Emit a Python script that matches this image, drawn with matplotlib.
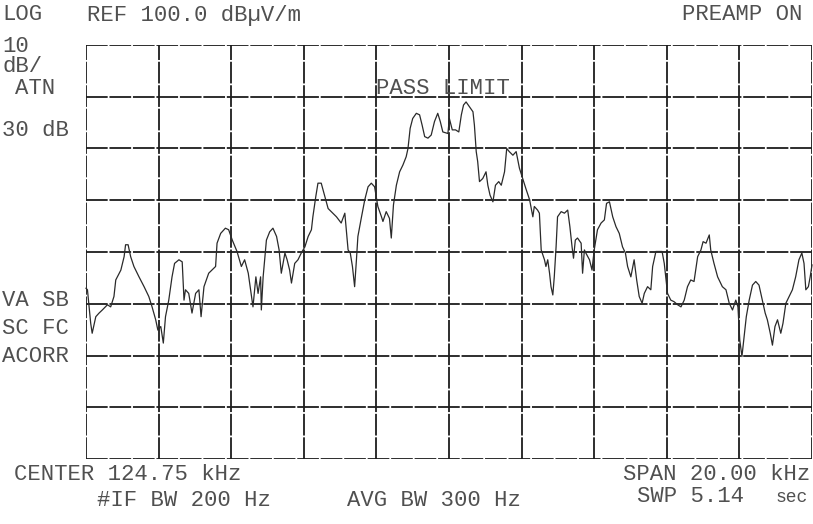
import matplotlib
matplotlib.use("Agg")
import matplotlib.pyplot as plt

# spectrum analyzer screen dump, 10 dB/div, ref 100 dBuV/m, span 20 kHz
ref_level = 100.0
db_per_div = 10
span_khz = 20.0

offset_khz = [
    0.00, 0.04, 0.13, 0.17, 0.27, 0.36, 0.45, 0.59, 0.68, 0.77, 0.82, 0.96, 1.05, 1.09, 1.16,
    1.23, 1.32, 1.46, 1.60, 1.73, 1.82, 1.92, 1.98, 2.06, 2.13, 2.19, 2.28, 2.37, 2.44, 2.56,
    2.65, 2.70, 2.74, 2.83, 2.92, 3.02, 3.11, 3.17, 3.25, 3.38, 3.57, 3.61, 3.71, 3.84, 3.93,
    4.03, 4.16, 4.28, 4.37, 4.47, 4.56, 4.60, 4.68, 4.74, 4.81, 4.83, 4.88, 4.97, 5.06, 5.15,
    5.25, 5.32, 5.38, 5.48, 5.54, 5.61, 5.66, 5.75, 5.84, 5.93, 6.03, 6.12, 6.21, 6.25, 6.33,
    6.39, 6.48, 6.58, 6.67, 6.80, 6.90, 7.03, 7.13, 7.17, 7.22, 7.28, 7.34, 7.40, 7.45, 7.49,
    7.59, 7.68, 7.77, 7.86, 7.95, 8.04, 8.14, 8.18, 8.27, 8.36, 8.41, 8.47, 8.55, 8.64, 8.73,
    8.82, 8.87, 8.93, 9.00, 9.10, 9.19, 9.26, 9.33, 9.42, 9.51, 9.60, 9.69, 9.76, 9.83, 9.97,
    10.01, 10.09, 10.18, 10.27, 10.34, 10.40, 10.47, 10.56, 10.66, 10.70, 10.75, 10.79, 10.84,
    10.93, 11.02, 11.07, 11.13, 11.21, 11.28, 11.37, 11.44, 11.53, 11.59, 11.66, 11.76, 11.85,
    11.94, 12.03, 12.12, 12.22, 12.31, 12.35, 12.44, 12.49, 12.54, 12.63, 12.67, 12.72, 12.77,
    12.81, 12.86, 12.90, 12.95, 12.99, 13.09, 13.18, 13.27, 13.33, 13.39, 13.43, 13.48, 13.54,
    13.64, 13.68, 13.73, 13.77, 13.87, 13.94, 14.00, 14.09, 14.19, 14.28, 14.34, 14.42, 14.51,
    14.60, 14.69, 14.78, 14.86, 14.92, 15.01, 15.10, 15.17, 15.24, 15.32, 15.38, 15.47, 15.56,
    15.61, 15.70, 15.79, 15.87, 15.93, 16.02, 16.11, 16.20, 16.30, 16.39, 16.48, 16.57, 16.66,
    16.75, 16.85, 16.94, 17.00, 17.08, 17.17, 17.21, 17.30, 17.40, 17.53, 17.63, 17.72, 17.81,
    17.90, 17.96, 18.01, 18.07, 18.13, 18.19, 18.27, 18.36, 18.45, 18.54, 18.63, 18.71, 18.77,
    18.85, 18.91, 18.98, 19.05, 19.14, 19.20, 19.28, 19.37, 19.46, 19.55, 19.64, 19.72, 19.78,
    19.83, 19.90, 19.95, 20.00,
]
level_dbuv = [
    53.0, 52.7, 46.2, 44.3, 47.5, 48.2, 48.8, 49.8, 49.4, 51.4, 54.6, 56.5, 59.1, 61.4, 61.4,
    59.1, 57.2, 55.2, 53.3, 51.4, 49.4, 46.9, 44.9, 45.6, 42.4, 47.5, 50.7, 55.2, 57.8, 58.5,
    58.1, 50.7, 52.7, 52.0, 48.2, 52.0, 52.7, 47.5, 53.3, 55.9, 57.2, 61.7, 63.6, 64.6, 64.3,
    62.3, 60.1, 57.2, 58.5, 55.9, 51.4, 49.4, 55.2, 52.0, 55.2, 48.8, 55.2, 62.3, 63.9, 64.6,
    63.0, 60.4, 55.9, 59.8, 58.5, 56.5, 54.0, 57.8, 58.5, 59.8, 61.0, 63.0, 64.3, 66.8, 70.7,
    73.3, 73.3, 70.7, 68.4, 67.5, 66.8, 65.6, 67.5, 64.3, 60.4, 59.8, 57.2, 53.3, 58.5, 63.0,
    66.8, 70.1, 72.6, 73.3, 72.6, 68.8, 66.8, 65.9, 67.8, 66.5, 62.7, 69.1, 72.9, 75.5, 76.8,
    78.4, 80.0, 83.9, 85.8, 86.8, 86.5, 84.5, 82.3, 82.0, 82.6, 85.2, 86.8, 85.2, 83.2, 82.9,
    85.8, 83.6, 83.6, 83.2, 86.5, 88.4, 89.0, 88.1, 87.1, 84.5, 79.4, 77.5, 73.6,
    74.2, 75.5, 72.9, 71.0, 69.7, 72.9, 73.6, 72.9, 75.5, 80.0, 79.4, 78.7, 79.4,
    76.2, 74.2, 72.2, 70.1, 66.8, 68.8, 68.1, 67.5, 60.4, 58.5, 57.2, 58.5, 55.9,
    53.3, 51.7, 55.2, 61.0, 66.8, 67.8, 67.5, 68.1, 64.9, 61.0, 58.8, 62.3, 62.7,
    61.7, 55.9, 60.4, 59.8, 58.5, 56.5, 60.4, 64.3, 65.6, 66.2, 69.4, 69.7, 66.8,
    64.9, 63.6, 61.0, 59.8, 57.2, 55.2, 58.5, 54.6, 51.4, 50.1, 52.0, 53.3, 52.7,
    57.2, 60.1, 60.1, 60.1, 57.8, 52.0, 50.7, 50.4, 49.8, 49.4, 50.7, 53.3, 54.6,
    54.3, 59.1, 60.4, 62.0, 61.7, 63.3, 60.4, 57.8, 55.2, 53.3, 52.7, 50.1, 48.8,
    50.7, 49.4, 43.0, 39.8, 43.6, 47.5, 50.7, 53.6, 54.3, 53.6, 50.7, 48.2, 46.9,
    44.3, 42.0, 45.6, 46.9, 44.3, 46.2, 50.1, 51.4, 52.7, 55.2, 58.5, 59.8, 57.8,
    52.7, 53.3, 55.2, 57.5,
]

W, H = 813, 524
fig = plt.figure(figsize=(W / 100, H / 100), dpi=100)
fig.patch.set_facecolor("white")

ax = fig.add_axes([86 / W, 1 - 459 / H, 726 / W, 414 / H])
ax.set_xlim(0, span_khz)
ax.set_ylim(ref_level - 8 * db_per_div, ref_level)
ax.set_xticks([])
ax.set_yticks([])
for sp in ax.spines.values():
    sp.set_visible(False)

grid_kw = dict(color="#1c1c1c", lw=1.3, ls=(0, (12, 1.0)))
for i in range(11):
    ax.axvline(i * span_khz / 10, **grid_kw)
for j in range(9):
    ax.axhline(ref_level - j * db_per_div, **grid_kw)

ax.plot(offset_khz, level_dbuv, color="#2a2a2a", lw=0.9, clip_on=False)

txt_kw = dict(family="Liberation Mono", fontsize=16, color="#505050", va="center", ha="left")


def label(x, y, s, **kw):
    opts = dict(txt_kw)
    opts.update(kw)
    fig.text(x / W, 1 - y / H, s, **opts)


label(2, 15, "LOG")
label(87, 15, "REF 100.0 dB\u00b5V/m")
label(682, 15, "PREAMP ON")
label(2, 46, "10")
label(2, 67, "dB/")
label(15, 88, "ATN")
label(2, 131, "30 dB")
label(2, 300, "VA SB")
label(2, 329, "SC FC")
label(2, 357, "ACORR")
label(376, 88, "PASS LIMIT")
label(14, 475, "CENTER 124.75 kHz")
label(97, 500, "#IF BW 200 Hz")
label(347, 500, "AVG BW 300 Hz")
label(623, 474, "SPAN 20.00 kHz")
label(637, 496, "SWP 5.14")
label(775, 497, "sec", fontsize=13)

fig.savefig("out.png", dpi=100, facecolor="white")
